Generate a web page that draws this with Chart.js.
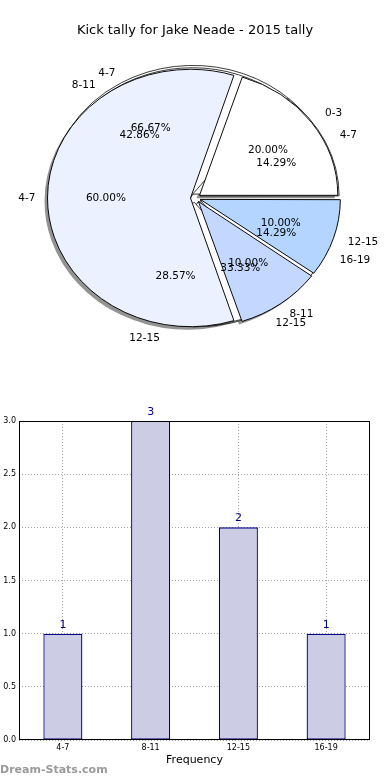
<!DOCTYPE html>
<html lang="en">
<head>
<meta charset="UTF-8">
<title>Kick tally for Jake Neade - 2015 tally</title>
<script src="https://cdn.jsdelivr.net/npm/chart.js@4.4.1/dist/chart.umd.min.js"></script>
<style>
  body { margin: 0; background: #fff; font-family: "DejaVu Sans", sans-serif; }
  .page { position: relative; width: 390px; height: 780px; overflow: hidden; }
  .title { position: absolute; top: 22px; left: 0; width: 390px; text-align: center; font-size: 13px; color: #000; z-index: 5; }
  .pie-wrap { position: absolute; left: 0; top: 0; width: 390px; height: 396px; z-index: 2; }
  .pie-wrap canvas { position: absolute; left: 0; top: 0; }
  /* matplotlib style drop shadow: same pie, moved down-left */
  .pie-wrap #pieShade { left: -3px; top: 3px; }
  .bar-wrap { position: absolute; left: 0; top: 390px; width: 390px; height: 390px; z-index: 1; }
  .brand { position: absolute; left: 0; top: 763px; font-size: 11px; font-weight: bold; color: #9a9a9a; z-index: 3; }
</style>
</head>
<body>
<div class="page">
  <div class="title">Kick tally for Jake Neade - 2015 tally</div>
  <div class="pie-wrap">
    <canvas id="pieShade" width="390" height="396"></canvas>
    <canvas id="piePair" width="390" height="396"></canvas>
    <canvas id="pieKicks" width="390" height="396"></canvas>
    <canvas id="pieTally" width="390" height="396"></canvas>
  </div>
  <div class="bar-wrap">
    <canvas id="barKicks" width="390" height="390"></canvas>
  </div>
  <div class="brand">Dream-Stats.com</div>
</div>

<script>
// three pies were drawn on top of each other in the original
const tallyLabels = ['0-3', '4-7', '8-11', '12-15'];
const tallyCounts = [2, 6, 1, 1];
const kickLabels = ['4-7', '8-11', '12-15', '16-19'];
const kickCounts = [1, 3, 2, 1];
const pairLabels = ['4-7', '12-15'];
const pairCounts = [2, 1];
const tallyColors = ['#ffffff', '#ebf1ff', '#c4d8ff', '#b3d5ff'];

const SQUASH = 0.9;    // pie was not drawn with equal aspect -> ellipse
const EXPLODE = 5;
const RADIUS = 138;
const TEXT_R = 141;

// matplotlib goes counter-clockwise from 3 o'clock, chart.js clockwise -> reverse
const rev = arr => arr.slice().reverse();

const midY = chart => (chart.chartArea.top + chart.chartArea.bottom) / 2;

const squash = {
  id: 'squash',
  beforeDatasetsDraw(chart) {
    const ctx = chart.ctx, cy = midY(chart);
    ctx.save();
    ctx.translate(0, cy);
    ctx.scale(1, SQUASH);
    ctx.translate(0, -cy);
  },
  afterDatasetsDraw(chart) {
    chart.ctx.restore();
  }
};

// labels + percentages of every pie, written on the top canvas
function drawPieText(ctx, chart) {
  const meta = chart.getDatasetMeta(0);
  const values = chart.data.datasets[0].data;
  const total = values.reduce((a, b) => a + b, 0);
  meta.data.forEach((arc, i) => {
    const p = arc.getProps(['x', 'y', 'startAngle', 'endAngle']);
    const mid = (p.startAngle + p.endAngle) / 2;
    const cos = Math.cos(mid), sin = Math.sin(mid);
    const put = (text, dist, align) => {
      ctx.textAlign = align;
      ctx.fillText(text, p.x + cos * dist, p.y + sin * dist * SQUASH);
    };
    put(chart.data.labels[i], EXPLODE + 1.1 * TEXT_R, cos > 0 ? 'left' : 'right');
    put((values[i] / total * 100).toFixed(2) + '%', EXPLODE + 0.6 * TEXT_R, 'center');
  });
}

const textPies = [];
const pieText = {
  id: 'pieText',
  afterDatasetsDraw(chart) {
    const ctx = chart.ctx;
    ctx.save();
    ctx.fillStyle = '#000';
    ctx.font = '10.5px "DejaVu Sans"';
    ctx.textBaseline = 'middle';
    [chart].concat(textPies).forEach(c => drawPieText(ctx, c));
    ctx.restore();
  }
};

function makePie(id, labels, counts, look, withText) {
  const ds = Object.assign({ data: rev(counts), radius: RADIUS, offset: EXPLODE * 4 }, look);
  return new Chart(document.getElementById(id), {
    type: 'pie',
    data: { labels: rev(labels), datasets: [ds] },
    options: {
      responsive: false,
      animation: false,
      rotation: 90,
      layout: { padding: { left: 1 } },
      plugins: { legend: { display: false }, tooltip: { enabled: false } },
      events: []
    },
    plugins: withText ? [squash, pieText] : [squash]
  });
}

const underneath = { backgroundColor: '#ffffff', borderColor: '#000', borderWidth: 0.8 };

makePie('pieShade', tallyLabels, tallyCounts,
  { backgroundColor: 'rgba(40,40,40,0.5)', borderWidth: 0 }, false);
const pairPie = makePie('piePair', pairLabels, pairCounts, underneath, false);
const kickPie = makePie('pieKicks', kickLabels, kickCounts, underneath, false);
textPies.push(kickPie, pairPie);
makePie('pieTally', tallyLabels, tallyCounts,
  { backgroundColor: rev(tallyColors), borderColor: '#000', borderWidth: 1 }, true);

// bar chart
const frame = {
  id: 'frame',
  afterDraw(chart) {
    const { ctx, chartArea: a } = chart;
    ctx.save();
    ctx.strokeStyle = '#000';
    ctx.lineWidth = 1;
    ctx.strokeRect(Math.round(a.left) + 0.5, Math.round(a.top) + 0.5,
      Math.round(a.width) - 1, Math.round(a.height) - 1);
    ctx.restore();
  }
};

const barValues = {
  id: 'barValues',
  afterDatasetsDraw(chart) {
    const ctx = chart.ctx;
    const meta = chart.getDatasetMeta(0);
    ctx.save();
    ctx.fillStyle = '#00008b';
    ctx.font = '11px "DejaVu Sans"';
    ctx.textAlign = 'center';
    ctx.textBaseline = 'middle';
    meta.data.forEach((bar, i) => {
      ctx.fillText(String(chart.data.datasets[0].data[i]), bar.x, bar.y - 9);
    });
    ctx.restore();
  }
};

const gridDots = { color: '#a0a0a0', lineWidth: 1, drawTicks: false };

new Chart(document.getElementById('barKicks'), {
  type: 'bar',
  data: {
    labels: kickLabels,
    datasets: [{
      data: kickCounts,
      backgroundColor: '#cccce5',
      borderColor: '#000080',
      borderWidth: 1.3,
      borderSkipped: false,
      barPercentage: 0.445,
      categoryPercentage: 1
    }]
  },
  options: {
    responsive: false,
    animation: false,
    events: [],
    layout: { padding: { top: 31, right: 20, left: 0, bottom: 13 } },
    plugins: { legend: { display: false }, tooltip: { enabled: false } },
    scales: {
      x: {
        z: 1,
        grid: Object.assign({ offset: false }, gridDots),
        border: { display: false, dash: [1, 2] },
        ticks: { color: '#000', font: { family: 'DejaVu Sans', size: 8 }, padding: 3 },
        title: { display: true, text: 'Frequency', color: '#000', font: { family: 'DejaVu Sans', size: 11 }, padding: 0 },
        afterFit(scale) { scale.height = 27; }
      },
      y: {
        z: 1,
        min: 0,
        max: 3,
        grid: gridDots,
        border: { display: false, dash: [1, 2] },
        ticks: { stepSize: 0.5, color: '#000', font: { family: 'DejaVu Sans', size: 8 }, padding: 3,
          callback: v => v.toFixed(1) },
        afterFit(scale) { scale.width = 19; }
      }
    }
  },
  plugins: [frame, barValues]
});
</script>
</body>
</html>
